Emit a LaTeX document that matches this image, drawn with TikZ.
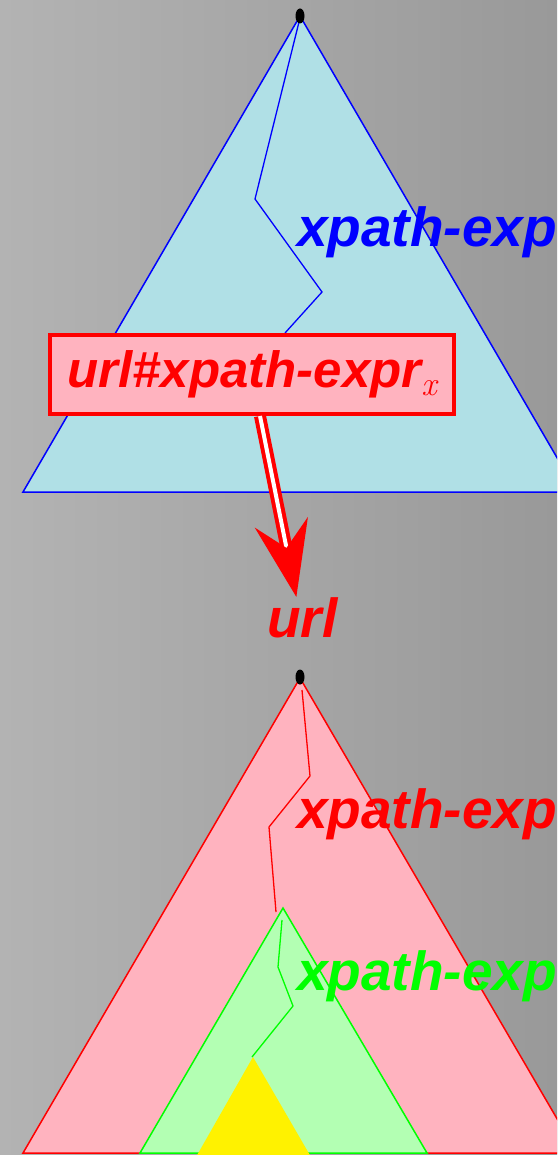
\documentclass[tikz,border=0pt]{standalone}
\usepackage{fontspec}
\setmainfont{Liberation Sans}
\newfontfamily\lmrfam{Latin Modern Roman}
\usetikzlibrary{arrows.meta,shapes.geometric}
\definecolor{bgL}{HTML}{B3B3B3}
\definecolor{bgR}{HTML}{999999}
\definecolor{pblue}{HTML}{B0E0E6}
\definecolor{lpink}{HTML}{FFB3BF}
\definecolor{lgreen}{HTML}{B3FFB3}
\definecolor{bgreen}{HTML}{00FF00}
\begin{document}
\begin{tikzpicture}[x=1pt,y=-1pt,
  lbl/.style={font=\fontsize{55}{62}\selectfont\bfseries\itshape, inner sep=0pt, anchor=base west},
  tri/.style={line width=1.5pt, line join=miter},
  pth/.style={line width=1.3pt},
  rootdot/.style={ellipse, fill=black, minimum width=9pt, minimum height=15pt, inner sep=0pt},
  refbox/.style={draw=red, line width=4pt, fill=lpink, text=red, inner sep=0pt,
    minimum width=404pt, minimum height=79pt,
    font=\fontsize{51}{56}\selectfont\bfseries\itshape}]
\shade[left color=bgL, right color=bgR] (0,0) rectangle (557,1155);
\useasboundingbox (0,0) rectangle (557,1155);
\begin{scope}
\clip (0,0) rectangle (557,1155);
% top tree
\fill[pblue] (300,16) -- (23,492) -- (577,492) -- cycle;
\node[lbl, text=blue] (lblA) at (297,247) {xpath-exp};
\draw[tri, blue] (300,16) -- (23,492) -- (577,492) -- cycle;
\draw[pth, blue] (300,18) -- (255,199) -- (322,292) -- (285,333);
\node[rootdot] (rootA) at (300,16) {};
% bottom tree
\fill[lpink] (300,678) -- (23,1153) -- (577,1153) -- cycle;
\node[lbl, text=red] (lblB) at (297,828) {xpath-exp};
\draw[tri, red] (300,678) -- (23,1153) -- (577,1153) -- cycle;
\draw[pth, red] (302,690) -- (310,776) -- (269,827) -- (276,912);
\fill[lgreen] (283,908) -- (140,1153) -- (427,1153) -- cycle;
\node[lbl, text=bgreen] (lblC) at (297,990) {xpath-exp};
\draw[tri, bgreen] (283,908) -- (140,1153) -- (427,1153) -- cycle;
\fill[yellow] (253,1057) -- (196,1157) -- (311,1157) -- cycle;
\draw[pth, bgreen] (282,920) -- (278,967) -- (293,1006) -- (252,1057);
\node[rootdot] (rootB) at (300,677) {};
% reference box and arrow
\node[refbox] (box) at (252,374.5) {url\#xpath-expr\raisebox{-8pt}{\lmrfam\mdseries\itshape\fontsize{34}{38}\selectfont x}};
\node[lbl, text=red] (url) at (267,637) {url};
\draw[red, line width=4pt, double=white, double distance=4pt,
  -{Stealth[length=76pt, width=54pt, inset=26pt]}]
  ([xshift=8pt]box.south) -- ([xshift=-6pt]url.north);
\end{scope}
\end{tikzpicture}
\end{document}
